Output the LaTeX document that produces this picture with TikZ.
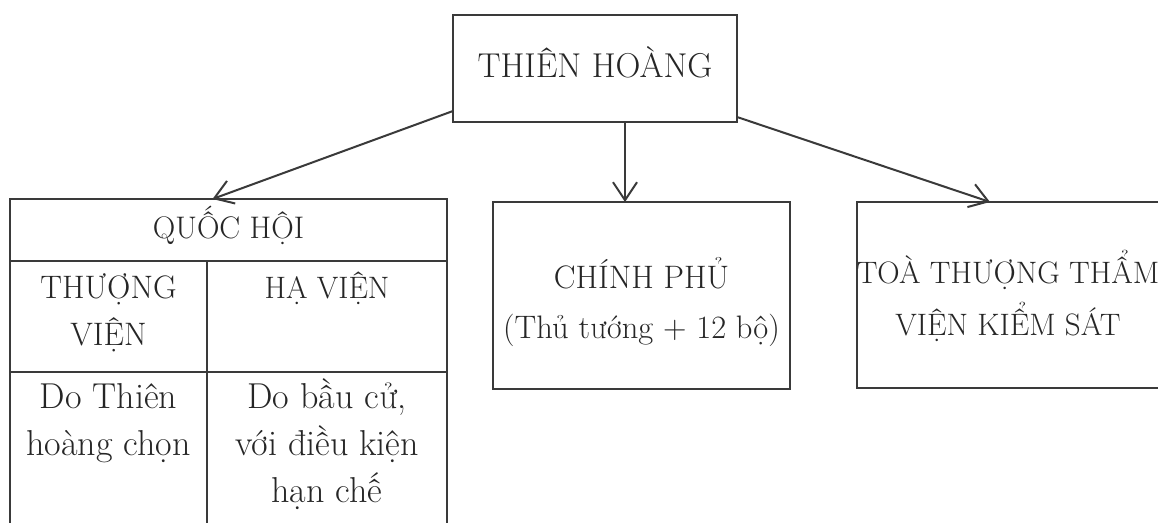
\documentclass[tikz,border=0pt]{standalone}
\usetikzlibrary{arrows.meta,calc}
\definecolor{ln}{HTML}{3A3A3A}
\definecolor{tx}{HTML}{262626}
\begin{document}
\begin{tikzpicture}[x=1pt,y=-1pt,
  box/.style={draw=ln, line width=2.2pt, rectangle, inner sep=0pt, outer sep=0pt},
  txt/.style={text=tx, font=\fontsize{#1}{47}\selectfont, align=center, inner sep=0pt, anchor=base},
  txt/.default=32,
  arr/.style={draw=ln, line width=2pt, -{Straight Barb[length=18pt,width=24pt]}}]
\useasboundingbox (0,0) rectangle (1158,522);
\clip (0,0) rectangle (1158,522);
\fill[white] (0,0) rectangle (1158,522);
% top box
\node[box, minimum width=284pt, minimum height=107pt] (th) at (595,68.5) {};
\node[txt=34.5] (tht) at (595,77) {THIÊN HOÀNG};
% government
\node[box, minimum width=297pt, minimum height=187pt] (cp) at (641.5,295.5) {};
\node[txt=32.5] (cpt) at (641.5,338) {CHÍNH PHỦ\\[3pt](Thủ tướng + 12 bộ)};
% court
\node[box, minimum width=310pt, minimum height=186pt] (ts) at (1012,295) {};
\node[txt=31] (tst) at (1008,335) {TOÀ THƯỢNG THẨM\\[5pt]VIỆN KIỂM SÁT};
% parliament table
\node[box, minimum width=437pt, minimum height=62pt] (qh) at (228.5,230) {};
\node[txt=31.2] (qht) at (228.5,238) {QUỐC HỘI};
\node[box, anchor=north west, minimum width=197pt, minimum height=111pt] (c11) at (qh.south west) {};
\node[box, anchor=north west, minimum width=240pt, minimum height=111pt] (c12) at (c11.north east) {};
\node[box, anchor=north west, minimum width=197pt, minimum height=180pt] (c21) at (c11.south west) {};
\node[box, anchor=north west, minimum width=240pt, minimum height=180pt] (c22) at (c21.north east) {};
\node[txt=32.5] (t11) at (108.5,345) {THƯỢNG\\VIỆN};
\node[txt=31] (t12) at (327,298) {HẠ VIỆN};
\node[txt=36] (t21) at (108.5,455) {Do Thiên\\hoàng chọn};
\node[txt=36] (t22) at (327,502) {Do bầu cử,\\với điều kiện\\hạn chế};
% arrows
\draw[arr] ([yshift=11pt]th.south west) -- ([xshift=-16pt]qh.north);
\draw[arr] ([xshift=30pt]th.south) -- ([xshift=30pt]th.south |- cp.north);
\draw[arr] ([yshift=5pt]th.south east) -- ([xshift=-22pt]ts.north);
\end{tikzpicture}
\end{document}
